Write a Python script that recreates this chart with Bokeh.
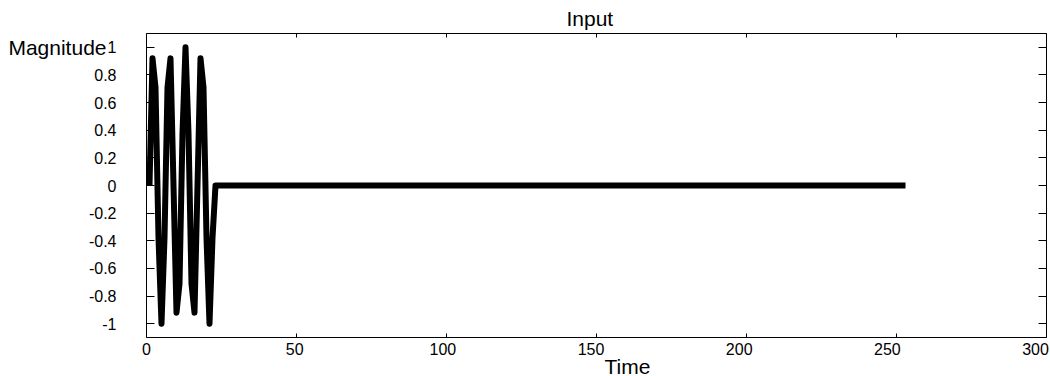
from bokeh.plotting import figure
from bokeh.models import ColumnDataSource, LinearAxis, Range1d, FixedTicker
from bokeh.embed import file_html
from bokeh.resources import INLINE

# ---- data ----
burst_time = list(range(1, 23))
burst_magnitude = [0.0, 0.92, 0.71, -0.38, -1.0, -0.38, 0.71, 0.92, 0.0, -0.92, -0.71,
                   0.38, 1.0, 0.38, -0.71, -0.92, 0.0, 0.92, 0.71, -0.38, -1.0, -0.38]
silence_time = list(range(23, 254))
silence_magnitude = [0.0] * len(silence_time)

x_ticks = [0, 50, 100, 150, 200, 250, 300]
x_tick_labels = ["0", "50", "100", "150", "200", "250", "300"]
y_ticks = [-1.0, -0.8, -0.6, -0.4, -0.2, 0.0, 0.2, 0.4, 0.6, 0.8, 1.0]
y_tick_labels = ["-1", "-0.8", "-0.6", "-0.4", "-0.2", "0", "0.2", "0.4", "0.6", "0.8", "1"]

title_text = "Input"
x_label = "Time"
y_label = "Magnitude"

time = burst_time + silence_time
magnitude = burst_magnitude + silence_magnitude
source = ColumnDataSource(data=dict(time=time, magnitude=magnitude))

FONT = "Liberation Sans"

p = figure(frame_width=900, frame_height=304,
           x_range=Range1d(0, 300), y_range=Range1d(-1.1, 1.1),
           x_axis_location=None, y_axis_location=None,
           toolbar_location=None, output_backend="svg",
           min_border_left=146, min_border_right=4,
           min_border_top=33, min_border_bottom=39,
           outline_line_color="black", outline_line_width=1,
           background_fill_color="white", border_fill_color="white")
p.xgrid.grid_line_color = None
p.ygrid.grid_line_color = None

p.extra_x_ranges = {"labels": Range1d(0, 303.7)}

p.title.text = title_text
p.title.align = "left"
p.title.offset = 420
p.title.standoff = 8
p.title.text_font = FONT
p.title.text_font_size = "21px"
p.title.text_font_style = "normal"
p.title.text_color = "black"


def tick_only(ticks, length):
    return LinearAxis(ticker=FixedTicker(ticks=ticks), major_tick_in=length,
                      major_tick_out=0, minor_tick_line_color=None,
                      axis_line_color=None, major_tick_line_color="black",
                      major_label_text_font_size="0px", major_label_text_color=None,
                      major_label_standoff=0)


def text_only(ticks, labels, size, standoff, **kw):
    return LinearAxis(ticker=FixedTicker(ticks=ticks),
                      major_label_overrides={float(t): s for t, s in zip(ticks, labels)},
                      major_tick_in=0, major_tick_out=0, major_tick_line_color=None,
                      minor_tick_line_color=None, axis_line_color=None,
                      major_label_standoff=standoff, major_label_text_font=FONT,
                      major_label_text_font_size=size, major_label_text_color="black", **kw)


# bottom: ticks on the frame, tick labels, then the axis name
p.add_layout(tick_only(x_ticks, 4), "below")
p.add_layout(text_only(x_ticks, x_tick_labels, "16px", 5, x_range_name="labels"), "below")
p.add_layout(text_only([160.3], [x_label], "21px", -3), "below")
p.add_layout(tick_only(x_ticks, 4), "above")

# left: ticks + labels, then the axis name level with the top tick
left_axis = text_only(y_ticks, y_tick_labels, "16px", 30)
left_axis.major_tick_in = 8
left_axis.major_tick_line_color = "black"
p.add_layout(left_axis, "left")
p.add_layout(text_only([1.0], [y_label], "21px", -21), "left")
p.add_layout(tick_only(y_ticks, 8), "right")

p.line(x="time", y="magnitude", source=source, line_color="black", line_width=6,
       line_join="round", line_cap="butt")

open("out.html", "w").write(file_html(p, INLINE))
